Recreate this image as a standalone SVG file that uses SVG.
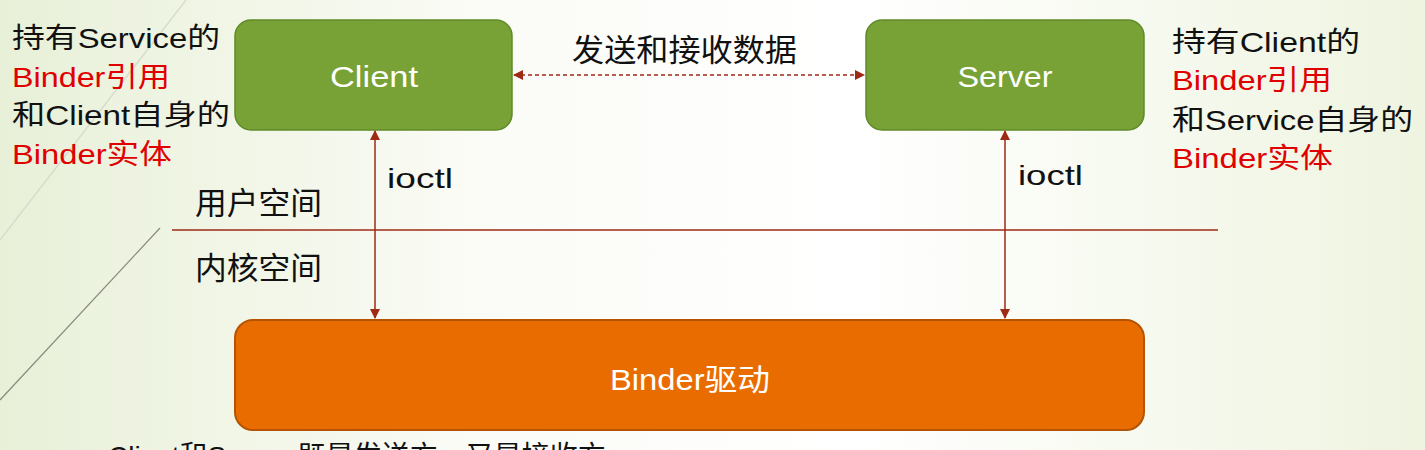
<svg xmlns="http://www.w3.org/2000/svg" width="1425" height="450" viewBox="0 0 1425 450">
<defs>
<linearGradient id="bg" x1="0" y1="0" x2="1" y2="0">
<stop offset="0" stop-color="#e8f0d8"/>
<stop offset="0.35" stop-color="#fbfcf7"/>
<stop offset="0.6" stop-color="#ffffff"/>
<stop offset="1" stop-color="#eef4e0"/>
</linearGradient>
<marker id="ah" viewBox="0 0 10 10" refX="9" refY="5" markerWidth="10" markerHeight="10" markerUnits="userSpaceOnUse" orient="auto-start-reverse">
<path d="M0,0 L10,5 L0,10 z" fill="#9e2a14"/>
</marker>
<style>
.t{font-family:"Liberation Sans","Noto Sans CJK SC",sans-serif;font-size:28px;fill:#111}
.c{font-size:31px}
.r{fill:#e00000}
.w{fill:#ffffff;text-anchor:middle;font-size:30px}
.green{fill:#78a236;stroke:#5f8a28;stroke-width:1.5}
.orange{fill:#e96c00;stroke:#b55400;stroke-width:2}
.ln{stroke:#9e2a14;stroke-width:1.5;fill:none}
</style>
</defs>
<rect width="1425" height="450" fill="url(#bg)"/>
<line x1="186" y1="0" x2="0" y2="240" stroke="#d8dccc" stroke-width="1.5"/>
<line x1="160" y1="228" x2="0" y2="400" stroke="#8a8a80" stroke-width="1.2"/>

<g id="client">
<rect class="green" x="235" y="20" width="277" height="110" rx="16"/>
<text class="t w" x="374" y="87" textLength="88" lengthAdjust="spacingAndGlyphs">Client</text>
</g>
<g id="server">
<rect class="green" x="866" y="20" width="278" height="110" rx="16"/>
<text class="t w" x="1005" y="87" textLength="95" lengthAdjust="spacingAndGlyphs">Server</text>
</g>
<g id="binder">
<rect class="orange" x="235" y="320" width="909" height="110" rx="18"/>
<text class="t w" x="690" y="390" textLength="160" lengthAdjust="spacingAndGlyphs">Binder驱动</text>
</g>

<g id="connectors">
<line class="ln" x1="514" y1="75" x2="864" y2="75" stroke-dasharray="4,3" marker-start="url(#ah)" marker-end="url(#ah)"/>
<line class="ln" x1="375" y1="131" x2="375" y2="318" marker-start="url(#ah)" marker-end="url(#ah)"/>
<line class="ln" x1="1005" y1="131" x2="1005" y2="318" marker-start="url(#ah)" marker-end="url(#ah)"/>
<line class="ln" x1="172" y1="230" x2="1218" y2="230"/>
</g>

<g id="labels">
<text class="t c" x="572" y="61" textLength="225" lengthAdjust="spacingAndGlyphs">发送和接收数据</text>
<text class="t" x="387" y="188" textLength="66" lengthAdjust="spacingAndGlyphs">ioctl</text>
<text class="t" x="1018" y="185" textLength="65" lengthAdjust="spacingAndGlyphs">ioctl</text>
<text class="t c" x="195" y="214" textLength="127" lengthAdjust="spacingAndGlyphs">用户空间</text>
<text class="t c" x="195" y="279" textLength="127" lengthAdjust="spacingAndGlyphs">内核空间</text>
</g>

<g id="left-note">
<text class="t" x="12" y="48" textLength="208" lengthAdjust="spacingAndGlyphs">持有Service的</text>
<text class="t r" x="12" y="87" textLength="158" lengthAdjust="spacingAndGlyphs">Binder引用</text>
<text class="t" x="12" y="125" textLength="218" lengthAdjust="spacingAndGlyphs">和Client自身的</text>
<text class="t r" x="12" y="164" textLength="160" lengthAdjust="spacingAndGlyphs">Binder实体</text>
</g>
<g id="right-note">
<text class="t" x="1172" y="52" textLength="188" lengthAdjust="spacingAndGlyphs">持有Client的</text>
<text class="t r" x="1172" y="90" textLength="160" lengthAdjust="spacingAndGlyphs">Binder引用</text>
<text class="t" x="1172" y="130" textLength="241" lengthAdjust="spacingAndGlyphs">和Service自身的</text>
<text class="t r" x="1172" y="168" textLength="161" lengthAdjust="spacingAndGlyphs">Binder实体</text>
</g>
<text class="t" x="108" y="466">Client和Server 既是发送方，又是接收方</text>
</svg>
